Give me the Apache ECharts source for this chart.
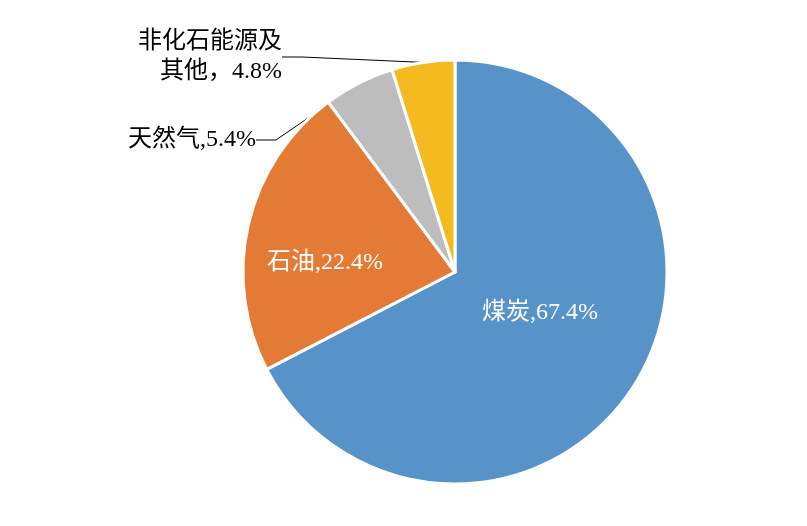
<!DOCTYPE html>
<html><head><meta charset="utf-8">
<script src="https://cdn.jsdelivr.net/npm/echarts@6/dist/echarts.min.js"></script>
<style>html,body{margin:0;padding:0;background:#fff}#c{width:807px;height:526px}</style>
</head><body><div id="c"></div>
<script>
const categories = ['煤炭', '石油', '天然气', '非化石能源及其他'];
const values = [67.4, 22.4, 5.4, 4.8];
const colors = ['#5793C9', '#E37A35', '#BDBDBD', '#F4BA1F'];
const labelText = ['煤炭,67.4%', '石油,22.4%', '天然气,5.4%', '非化石能源及\n其他，4.8%'];
const labelPos = [[540, 313, 'center'], [325, 263, 'center'], [256, 140, 'right'], [282, 57, 'right']];
const font = "'Liberation Serif','Noto Sans CJK SC',serif";
const chart = echarts.init(document.getElementById('c'));
chart.setOption({
  animation: false,
  series: [{
    type: 'pie',
    center: [455, 272],
    radius: [0, 212],
    startAngle: 90,
    clockwise: true,
    itemStyle: { borderColor: '#fff', borderWidth: 3 },
    data: categories.map((n, i) => ({
      name: n, value: values[i],
      itemStyle: { color: colors[i] },
      label: {
        show: true,
        position: i < 2 ? 'inside' : 'outside',
        formatter: labelText[i],
        color: i < 2 ? '#fff' : '#000',
        fontSize: 24, fontFamily: font, lineHeight: 30
      },
      labelLine: { show: i >= 2, length: 10, length2: 20, lineStyle: { color: '#000', width: 1 } }
    })),
    labelLayout: function (p) {
      const l = labelPos[p.dataIndex];
      return { x: l[0], y: l[1], align: l[2], verticalAlign: 'middle' };
    }
  }]
});
</script></body></html>
